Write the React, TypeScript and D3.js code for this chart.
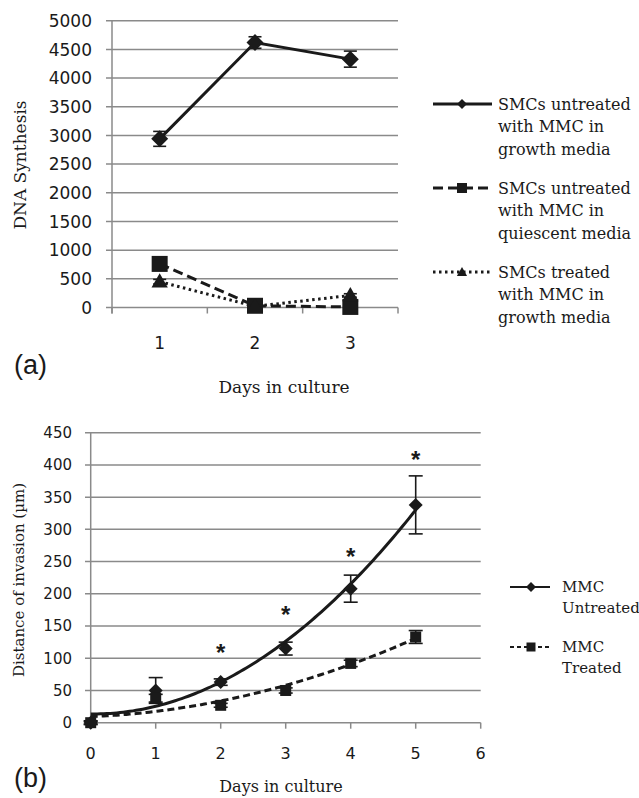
import React from 'react'
import * as d3 from 'd3'

// ---- panel (a): DNA synthesis ----
const daysA = ['1', '2', '3']
const yTicksA = [0, 500, 1000, 1500, 2000, 2500, 3000, 3500, 4000, 4500, 5000]
const growthUntreated = [2940, 4620, 4330]
const growthUntreatedErr = [130, 100, 140]
const quiescentUntreated = [760, 30, 10]
const quiescentUntreatedErr = [40, 20, 20]
const growthTreated = [450, 20, 210]
const growthTreatedErr = [40, 20, 30]
const legendA = [
  ['SMCs untreated', 'with MMC in', 'growth media'],
  ['SMCs untreated', 'with MMC in', 'quiescent media'],
  ['SMCs treated', 'with MMC in', 'growth media'],
]

// ---- panel (b): invasion distance ----
const daysB = [0, 1, 2, 3, 4, 5]
const xTicksB = [0, 1, 2, 3, 4, 5, 6]
const yTicksB = [0, 50, 100, 150, 200, 250, 300, 350, 400, 450]
const mmcUntreated = [0, 50, 63, 115, 208, 338]
const mmcUntreatedErr = [3, 20, 5, 10, 21, 45]
const mmcTreated = [0, 38, 27, 50, 92, 133]
const mmcTreatedErr = [2, 6, 3, 4, 5, 10]
const starDays = [2, 3, 4, 5]
const starLevels = [118, 177, 267, 417]
const legendB = [['MMC', 'Untreated'], ['MMC', 'Treated']]

const SANS = 'DejaVu Sans'
const SERIF = 'DejaVu Serif'
const GRID = '#8a8a8a'
const INK = '#1a1a1a'

// quadratic least squares, like the spreadsheet trendline
const polyfit2 = (xs: number[], ys: number[]) => {
  const n = xs.length
  let s1 = 0, s2 = 0, s3 = 0, s4 = 0, t0 = 0, t1 = 0, t2 = 0
  xs.forEach((x, i) => {
    const y = ys[i]
    s1 += x; s2 += x * x; s3 += x * x * x; s4 += x * x * x * x
    t0 += y; t1 += x * y; t2 += x * x * y
  })
  const m = [[n, s1, s2, t0], [s1, s2, s3, t1], [s2, s3, s4, t2]]
  for (let c = 0; c < 3; c++) {
    for (let r = c + 1; r < 3; r++) {
      const f = m[r][c] / m[c][c]
      for (let k = c; k < 4; k++) m[r][k] -= f * m[c][k]
    }
  }
  const coef = [0, 0, 0]
  for (let r = 2; r >= 0; r--) {
    let s = m[r][3]
    for (let k = r + 1; k < 3; k++) s -= m[r][k] * coef[k]
    coef[r] = s / m[r][r]
  }
  return (x: number) => coef[0] + coef[1] * x + coef[2] * x * x
}

const sym = (type: d3.SymbolType, size: number) => d3.symbol().type(type).size(size)() as string

const Marker = ({ kind, x, y, s }: { kind: string; x: number; y: number; s: number }) => {
  if (kind === 'square') return <rect x={x - s / 2} y={y - s / 2} width={s} height={s} fill={INK} />
  if (kind === 'diamond') {
    const h = s / 2
    return <path d={`M${x},${y - h}L${x + h},${y}L${x},${y + h}L${x - h},${y}Z`} fill={INK} />
  }
  return <path d={sym(d3.symbolTriangle, s * s * 0.45)} transform={`translate(${x},${y + 1})`} fill={INK} />
}

const ErrBar = ({ x, y1, y2, w }: { x: number; y1: number; y2: number; w: number }) => (
  <g stroke={INK} strokeWidth={1.6}>
    <line x1={x} x2={x} y1={y1} y2={y2} />
    <line x1={x - w / 2} x2={x + w / 2} y1={y1} y2={y1} />
    <line x1={x - w / 2} x2={x + w / 2} y1={y2} y2={y2} />
  </g>
)

function PanelA() {
  const x = d3.scaleBand().domain(daysA).range([112, 398])
  const y = d3.scaleLinear().domain([0, 5000]).range([307.5, 20.7])
  const cx = (d: string) => (x(d) as number) + x.bandwidth() / 2
  const line = d3.line<number>().x((_, i) => cx(daysA[i])).y((v) => y(v))
  const series = [
    { vals: growthUntreated, err: growthUntreatedErr, dash: 'none', kind: 'diamond', s: 17 },
    { vals: quiescentUntreated, err: quiescentUntreatedErr, dash: '10,5', kind: 'square', s: 16 },
    { vals: growthTreated, err: growthTreatedErr, dash: '2.5,3.5', kind: 'triangle', s: 16 },
  ]
  const bounds = [...daysA.map((d) => x(d) as number), 398]
  return (
    <g>
      {yTicksA.map((t) => (
        <g key={t}>
          <line x1={106} x2={398} y1={y(t)} y2={y(t)} stroke={GRID} strokeWidth={1.5} />
          <text x={92} y={y(t)} dy="0.36em" textAnchor="end" fontFamily={SANS} fontSize={17} fill={INK}>{t}</text>
        </g>
      ))}
      <line x1={112} x2={112} y1={y(5000)} y2={y(0) + 6} stroke={GRID} strokeWidth={1.5} />
      {bounds.map((b, i) => (
        <line key={i} x1={b} x2={b} y1={y(0)} y2={y(0) + 6} stroke={GRID} strokeWidth={1.5} />
      ))}
      {daysA.map((d) => (
        <text key={d} x={cx(d)} y={349} textAnchor="middle" fontFamily={SANS} fontSize={17} fill={INK}>{d}</text>
      ))}
      {series.map((s, k) => (
        <g key={k}>
          {s.vals.map((v, i) => (
            <ErrBar key={i} x={cx(daysA[i])} y1={y(v + s.err[i])} y2={y(v - s.err[i])} w={13} />
          ))}
          <path d={line(s.vals) as string} fill="none" stroke={INK} strokeWidth={3} strokeDasharray={s.dash} />
          {s.vals.map((v, i) => (
            <Marker key={i} kind={s.kind} x={cx(daysA[i])} y={y(v)} s={s.s} />
          ))}
        </g>
      ))}
      {legendA.map((lines, k) => {
        const ly = 104 + k * 84
        const s = series[k]
        return (
          <g key={k}>
            <line x1={433} x2={492} y1={ly} y2={ly} stroke={INK} strokeWidth={3} strokeDasharray={s.dash} />
            <Marker kind={s.kind} x={462} y={ly} s={10} />
            {lines.map((t, j) => (
              <text key={j} x={498} y={ly + j * 22.5} dy="0.35em" fontFamily={SERIF} fontSize={16} fill={INK}>{t}</text>
            ))}
          </g>
        )
      })}
      <text transform={`translate(26,165) rotate(-90)`} textAnchor="middle" fontFamily={SERIF} fontSize={17} fill={INK}>DNA Synthesis</text>
      <text x={284} y={393} textAnchor="middle" fontFamily={SERIF} fontSize={17} fill={INK}>Days in culture</text>
      <text x={14} y={374} fontFamily="Liberation Sans" fontSize={27} fill={INK}>(a)</text>
    </g>
  )
}

function PanelB() {
  const x = d3.scaleLinear().domain([0, 6]).range([90.7, 480.7])
  const y = d3.scaleLinear().domain([0, 450]).range([722.7, 432.7])
  const fitU = polyfit2(daysB, mmcUntreated)
  const fitT = polyfit2(daysB, mmcTreated)
  const xs = d3.range(0, 5.0001, 0.05)
  const curve = (f: (v: number) => number) => d3.line<number>().x((d) => x(d)).y((d) => y(f(d)))(xs) as string
  return (
    <g>
      {yTicksB.map((t) => (
        <g key={t}>
          <line x1={85} x2={480.7} y1={y(t)} y2={y(t)} stroke={GRID} strokeWidth={1.5} />
          <text x={72} y={y(t)} dy="0.36em" textAnchor="end" fontFamily={SANS} fontSize={15} fill={INK}>{t}</text>
        </g>
      ))}
      <line x1={x(0)} x2={x(0)} y1={y(450)} y2={y(0) + 6} stroke={GRID} strokeWidth={1.5} />
      {xTicksB.map((t) => (
        <g key={t}>
          <line x1={x(t)} x2={x(t)} y1={y(0)} y2={y(0) + 6} stroke={GRID} strokeWidth={1.5} />
          <text x={x(t)} y={759} textAnchor="middle" fontFamily={SANS} fontSize={16} fill={INK}>{t}</text>
        </g>
      ))}
      {daysB.map((d, i) => (
        <g key={d}>
          <ErrBar x={x(d)} y1={y(mmcUntreated[i] + mmcUntreatedErr[i])} y2={y(mmcUntreated[i] - mmcUntreatedErr[i])} w={14} />
          <ErrBar x={x(d)} y1={y(mmcTreated[i] + mmcTreatedErr[i])} y2={y(mmcTreated[i] - mmcTreatedErr[i])} w={14} />
        </g>
      ))}
      <path d={curve(fitU)} fill="none" stroke={INK} strokeWidth={3} />
      <path d={curve(fitT)} fill="none" stroke={INK} strokeWidth={3} strokeDasharray="7,4" />
      {daysB.map((d, i) => (
        <g key={d}>
          <Marker kind="diamond" x={x(d)} y={y(mmcUntreated[i])} s={14} />
          <Marker kind="square" x={x(d)} y={y(mmcTreated[i])} s={11} />
        </g>
      ))}
      {starDays.map((d, i) => (
        <text key={d} x={x(d)} y={y(starLevels[i])} dy="0.58em" textAnchor="middle" fontFamily="Liberation Sans" fontWeight="bold" fontSize={24} fill={INK}>*</text>
      ))}
      {legendB.map((lines, k) => {
        const ly = 587 + k * 60
        return (
          <g key={k}>
            <line x1={510} x2={550} y1={ly} y2={ly} stroke={INK} strokeWidth={2} strokeDasharray={k ? '4,3' : 'none'} />
            <Marker kind={k ? 'square' : 'diamond'} x={531} y={ly} s={k ? 9 : 10} />
            {lines.map((t, j) => (
              <text key={j} x={562} y={ly + j * 21} dy="0.35em" fontFamily={SERIF} fontSize={15} fill={INK}>{t}</text>
            ))}
          </g>
        )
      })}
      <text transform={`translate(24,580) rotate(-90)`} textAnchor="middle" fontFamily={SERIF} fontSize={15} fill={INK}>Distance of invasion (µm)</text>
      <text x={281} y={792} textAnchor="middle" fontFamily={SERIF} fontSize={16} fill={INK}>Days in culture</text>
      <text x={14} y={787} fontFamily="Liberation Sans" fontSize={27} fill={INK}>(b)</text>
    </g>
  )
}

export default function App() {
  return (
    <svg width={639} height={798} style={{ position: 'absolute', left: 0, top: 0, background: '#fff' }}>
      <PanelA />
      <PanelB />
    </svg>
  )
}
